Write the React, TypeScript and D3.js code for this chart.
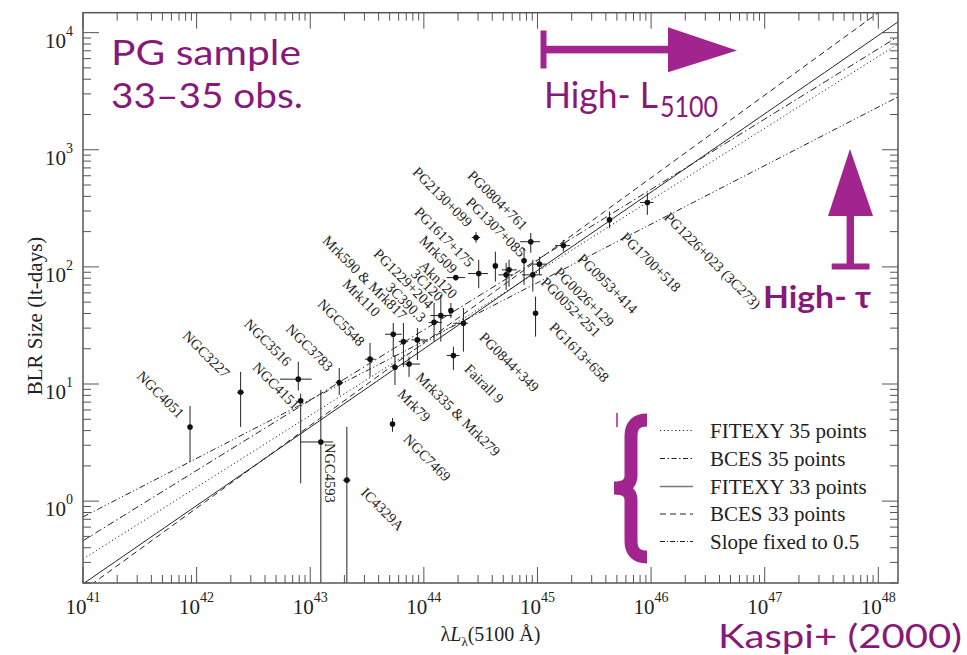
import React from "react";
import * as d3 from "d3";

// ---- Data ----
// λLλ(5100 Å) in erg/s, BLR size in light-days
const lum = [8.75e41, 2.44e42, 7.85e42, 8.24e42, 1.24e43, 2.1e43, 1.8e43, 3.36e43, 5.38e43, 6.61e43, 8.77e43, 5.57e43, 7.41e43, 5.3e43, 1.23e44, 1.41e44, 1.73e44, 2.23e44, 1.82e44, 2.88e44, 8.73e44, 1.91e44, 3.04e44, 4.26e44, 5.3e44, 5.62e44, 7.62e44, 9.1e44, 1.04e45, 9.62e44, 1.69e45, 4.3e45, 9.27e45];
const lumLo = [8.75e41, 2.27e42, 5.42e42, 8.24e42, 8.24e42, 1.94e43, 1.67e43, 3.03e43, 4.55e43, 6.0e43, 7.78e43, 5.57e43, 6.4e43, 5.3e43, 1.1e44, 1.14e44, 1.73e44, 1.82e44, 1.59e44, 2.64e44, 7.03e44, 1.59e44, 2.45e44, 4.26e44, 4.53e44, 4.85e44, 7.62e44, 7.31e44, 9.2e44, 9.62e44, 1.43e45, 4.3e45, 8.0e45];
const lumHi = [8.75e41, 2.61e42, 1.03e43, 8.24e42, 1.59e43, 2.26e43, 1.95e43, 3.72e43, 6.38e43, 7.3e43, 1.03e44, 5.57e43, 9.27e43, 5.3e43, 1.44e44, 1.76e44, 1.73e44, 2.45e44, 2.06e44, 3.13e44, 1.05e45, 2.31e44, 3.67e44, 4.26e44, 6.14e44, 6.58e44, 7.62e44, 1.1e45, 1.21e45, 9.62e44, 1.94e45, 4.3e45, 1.05e46];
const size = [4.3, 8.5, 11.0, 7.2, 3.2, 1.51, 10.3, 16.3, 26.6, 23.0, 23.8, 13.9, 14.8, 4.55, 33.6, 38.4, 42.3, 33.0, 17.5, 178, 164, 81, 87.7, 102, 85.5, 94.3, 112.6, 85.5, 105.5, 40.2, 152, 252, 355];
const sizeLo = [2.15, 4.3, 8.8, 1.42, 0.05, 0.05, 8.05, 11.5, 17.0, 14.0, 16.0, 9.8, 11.5, 3.91, 23.0, 23.0, 36.6, 18.9, 13.2, 161, 132, 77, 65.8, 74.9, 63.6, 67.9, 70.2, 61.5, 85.5, 25.4, 135, 214, 278];
const sizeHi = [6.5, 12.7, 15.5, 8.3, 8.9, 4.3, 13.7, 22.4, 33.2, 33.2, 30.1, 17.7, 17.1, 5.12, 49.2, 57.6, 49.2, 44.6, 20.8, 198, 195, 85, 115, 135, 108, 115, 145, 115, 122, 55.7, 170, 297, 429];

// Object labels: text, anchor (L, R) of the text start, rotation
const labelText = ["NGC4051", "NGC3227", "NGC3516", "NGC4151", "NGC3783", "NGC5548", "NGC4593", "IC4329A", "Mrk79", "NGC7469", "Mrk335 & Mrk279", "Mrk110", "Fairall 9", "PG0844+349", "PG2130+099", "PG0804+761", "PG1307+085", "PG1617+175", "Mrk509", "Akn120", "3C120", "3C390.3", "PG1229+204", "Mrk590 & Mrk817", "PG0026+129", "PG0052+251", "PG0953+414", "PG1700+518", "PG1226+023 (3C273)", "PG1613+658"];
const labelLogL = [41.467, 41.869, 42.411, 42.485, 42.778, 43.057, 43.13, 43.438, 43.761, 43.813, 43.923, 43.277, 44.348, 44.48, 43.893, 44.378, 44.363, 43.908, 43.952, 43.952, 43.879, 43.658, 43.55, 43.101, 45.14, 45.023, 45.346, 45.727, 46.108, 45.096];
const labelLogR = [1.06, 1.404, 1.504, 1.134, 1.462, 1.675, 0.496, 0.066, 0.906, 0.521, 1.049, 1.846, 1.12, 1.391, 2.801, 2.772, 2.544, 2.459, 2.216, 2.003, 1.932, 1.818, 2.103, 2.216, 1.946, 1.861, 2.06, 2.245, 2.416, 1.476];
const labelAngle = [45, 45, 45, 45, 45, 45, 90, 45, 45, 45, 45, 45, 45, 45, 45, 45, 45, 45, 45, 45, 45, 45, 45, 45, 45, 45, 45, 45, 45, 45];

// Fits: log R = a + b (log L - 44)
const fitNames = ["FITEXY 35 points", "BCES 35 points", "FITEXY 33 points", "BCES 33 points", "Slope fixed to 0.5"];
const fitIntercept = [1.345, 1.462, 1.3, 1.351, 1.365];
const fitSlope = [0.613, 0.6, 0.669, 0.705, 0.5];
const fitDash = ["1.2,2.6", "7,3,1.5,3", "none", "6,4", "6,2.5,1.2,2.5,1.2,2.5"];

const xTickExp = [41, 42, 43, 44, 45, 46, 47, 48];
const yTickExp = [0, 1, 2, 3, 4];

const W = 967, H = 655;
const X0 = 83, X1 = 898, Y0 = 583, Y1 = 12.7;
const SERIF = "'Liberation Serif', 'Times New Roman', serif";
const PURPLE_TEXT = "#87197b";
const PURPLE = "#a2258f";
const SANS = "Lato, 'Noto Sans', sans-serif";

export default function App() {
  const x = d3.scaleLog().domain([1e41, 1.49e48]).range([X0, X1]);
  const y = d3.scaleLog().domain([0.2, 1.48e4]).range([Y0, Y1]);
  const [xmin, xmax] = x.domain();
  const [ymin, ymax] = y.domain();

  const xMinor: number[] = [];
  for (let e = 41; e <= 48; e++) for (let m = 2; m <= 9; m++) { const v = m * Math.pow(10, e); if (v < xmax) xMinor.push(v); }
  const yMinor: number[] = [];
  for (let e = -1; e <= 4; e++) for (let m = 2; m <= 9; m++) { const v = m * Math.pow(10, e); if (v >= ymin * 0.999 && v < ymax) yMinor.push(v); }

  const fitLine = (i: number) => {
    const f = (L: number) => Math.pow(10, fitIntercept[i] + fitSlope[i] * (Math.log10(L) - 44));
    const pts: [number, number][] = d3.range(0, 101).map((k) => {
      const L = Math.pow(10, Math.log10(xmin) + (Math.log10(xmax) - Math.log10(xmin)) * k / 100);
      return [x(L), y(f(L))];
    });
    return d3.line()(pts) as string;
  };

  const MAJ = 16, MIN = 8;
  const stroke = "#555";
  const legendY = [430.5, 458.5, 486.5, 514, 541.5];

  return (
    <svg width={W} height={H} style={{ position: "absolute", left: 0, top: 0, background: "#fff", display: "block" }}>
      <defs>
        <clipPath id="plot"><rect x={X0} y={Y1} width={X1 - X0} height={Y0 - Y1} /></clipPath>
      </defs>
      <rect x={0} y={0} width={W} height={H} fill="#fff" />

      {/* ticks */}
      <g stroke={stroke} strokeWidth={1}>
        {xTickExp.map((e) => (
          <g key={"xt" + e}>
            <line x1={x(Math.pow(10, e))} x2={x(Math.pow(10, e))} y1={Y0} y2={Y0 - MAJ} />
            <line x1={x(Math.pow(10, e))} x2={x(Math.pow(10, e))} y1={Y1} y2={Y1 + MAJ} />
          </g>
        ))}
        {xMinor.map((v, i) => (
          <g key={"xm" + i}>
            <line x1={x(v)} x2={x(v)} y1={Y0} y2={Y0 - MIN} />
            <line x1={x(v)} x2={x(v)} y1={Y1} y2={Y1 + MIN} />
          </g>
        ))}
        {yTickExp.map((e) => (
          <g key={"yt" + e}>
            <line x1={X0} x2={X0 + MAJ} y1={y(Math.pow(10, e))} y2={y(Math.pow(10, e))} />
            <line x1={X1} x2={X1 - MAJ} y1={y(Math.pow(10, e))} y2={y(Math.pow(10, e))} />
          </g>
        ))}
        {yMinor.map((v, i) => (
          <g key={"ym" + i}>
            <line x1={X0} x2={X0 + MIN} y1={y(v)} y2={y(v)} />
            <line x1={X1} x2={X1 - MIN} y1={y(v)} y2={y(v)} />
          </g>
        ))}
      </g>

      {/* fit lines */}
      <g clipPath="url(#plot)" fill="none" stroke="#222" strokeWidth={1}>
        {fitNames.map((n, i) => (
          <path key={n} d={fitLine(i)} strokeDasharray={fitDash[i]} />
        ))}
      </g>

      {/* data points */}
      <g clipPath="url(#plot)" stroke="#222" strokeWidth={1}>
        {lum.map((L, i) => (
          <g key={"p" + i}>
            <line x1={x(L)} x2={x(L)} y1={y(sizeLo[i])} y2={y(sizeHi[i])} />
            {lumHi[i] > lumLo[i] && <line x1={x(lumLo[i])} x2={x(lumHi[i])} y1={y(size[i])} y2={y(size[i])} />}
            <circle cx={x(L)} cy={y(size[i])} r={2.8} fill="#111" stroke="none" />
          </g>
        ))}
      </g>

      {/* object labels */}
      <g fontFamily={SERIF} fontSize={14.5} fill="#222">
        {labelText.map((t, i) => {
          const px = x(Math.pow(10, labelLogL[i]));
          const py = y(Math.pow(10, labelLogR[i]));
          return (
            <text key={t} x={px} y={py} transform={`rotate(${labelAngle[i]},${px},${py})`}>{t}</text>
          );
        })}
      </g>

      {/* frame */}
      <rect x={X0} y={Y1} width={X1 - X0} height={Y0 - Y1} fill="none" stroke={stroke} strokeWidth={1.5} />

      {/* axis tick labels */}
      <g fontFamily={SERIF} fill="#222">
        {xTickExp.map((e) => (
          <text key={"xl" + e} x={x(Math.pow(10, e))} y={Y0 + 31} textAnchor="middle" fontSize={21}>
            10<tspan fontSize={14} dy={-12}>{e}</tspan>
          </text>
        ))}
        {yTickExp.map((e) => (
          <text key={"yl" + e} x={73} y={y(Math.pow(10, e)) + 15} textAnchor="end" fontSize={21}>
            10<tspan fontSize={14} dy={-12}>{e}</tspan>
          </text>
        ))}
        <text x={(X0 + X1) / 2} y={641} textAnchor="middle" fontSize={20}>
          λ<tspan fontStyle="italic">L</tspan><tspan fontSize={13} dy={5}>λ</tspan><tspan dy={-5}>(5100 Å)</tspan>
        </text>
        <text transform="translate(42,316) rotate(-90)" textAnchor="middle" fontSize={21}>BLR Size (lt-days)</text>
      </g>

      {/* legend */}
      <g fontFamily={SERIF} fontSize={21} fill="#222">
        {fitNames.map((n, i) => (
          <g key={"lg" + i}>
            <line x1={660} x2={693} y1={legendY[i]} y2={legendY[i]} stroke={i === 2 ? "#777" : "#222"} strokeWidth={i === 2 ? 1.5 : 1} strokeDasharray={fitDash[i] === "none" ? undefined : (i === 4 ? "5,2,1,2" : i === 1 ? "5,2.5,1.5,2.5" : fitDash[i])} />
            <text x={710} y={legendY[i] + 7}>{n}</text>
          </g>
        ))}
      </g>

      {/* brace */}
      <path d="M647,420 Q631,420 631,436 L631,476 Q631,488 614,488 Q631,488 631,500 L631,541 Q631,557 647,557" fill="none" stroke={PURPLE} strokeWidth={13} />
      <line x1={617} x2={617} y1={413} y2={427} stroke={PURPLE} strokeWidth={1.5} />

      {/* annotations */}
      <g fill={PURPLE} stroke="none">
        <rect x={540.5} y={30.5} width={6} height={38} />
        <rect x={543} y={45.8} width={127} height={7.6} />
        <path d="M668,27.3 L737,50.6 L668,72.3 Z" />
        <path d="M850,149 L873,216 L828,216 Z" />
        <rect x={846.6} y={214} width={7.4} height={52} />
        <rect x={831.7} y={263.5} width={37.8} height={6} />
      </g>
      <g fontFamily={SANS} fill={PURPLE_TEXT}>
        <text x={111} y={65} fontSize={35} textLength={190} lengthAdjust="spacingAndGlyphs">PG sample</text>
        <text x={111} y={108} fontSize={35} textLength={192} lengthAdjust="spacingAndGlyphs">33–35 obs.</text>
        <text x={544} y={108} fontSize={36} textLength={114} lengthAdjust="spacingAndGlyphs">High- L</text>
        <text x={660} y={116.5} fontSize={29} textLength={58} lengthAdjust="spacingAndGlyphs">5100</text>
        <text x={763} y={308} fontSize={30} fontWeight={700} textLength={108} lengthAdjust="spacingAndGlyphs">High- τ</text>
        <text x={718} y={648} fontSize={33} textLength={244} lengthAdjust="spacingAndGlyphs">Kaspi+ (2000)</text>
      </g>
    </svg>
  );
}
